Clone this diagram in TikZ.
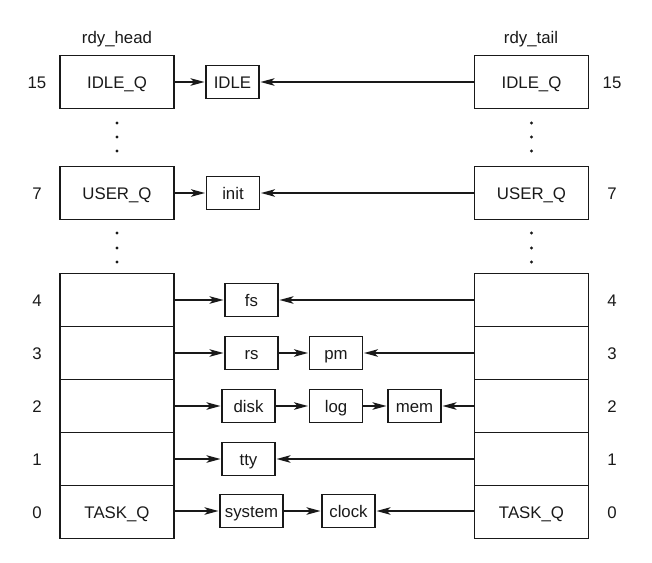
\documentclass[tikz,border=0pt]{standalone}
\usepackage{fontspec}
\setmainfont{Liberation Sans}
\usetikzlibrary{arrows.meta}
\definecolor{ink}{RGB}{25,25,25}
\begin{document}
\begin{tikzpicture}[x=1pt,y=-1pt,
  every node/.style={font=\fontsize{16.8}{19}\selectfont,text=ink,text height=12.2pt,text depth=0pt},
  qbox/.style={draw=ink,line width=1.7pt,minimum width=114pt,minimum height=53pt,inner sep=0pt,outer sep=0pt},
  pbox/.style={draw=ink,line width=1.7pt,minimum width=53pt,minimum height=33pt,inner sep=0pt,outer sep=0pt},
  lnk/.style={draw=ink,line width=1.6pt,shorten >=1.5pt,-{Stealth[length=14pt,width=7.5pt,inset=3.5pt]}},
  lbl/.style={inner sep=0pt}]
\useasboundingbox (0,0) rectangle (652,562);
% headers
\node[lbl] (hh) at (117,37) {rdy\_head};
\node[lbl] (ht) at (531,37) {rdy\_tail};
% left column
\node[qbox] (L15) at (117,82) {IDLE\_Q};
\node[qbox] (L7) at (117,193) {USER\_Q};
\node[qbox] (L4) at (117,300) {};
\node[qbox] (L3) at (117,353) {};
\node[qbox] (L2) at (117,406) {};
\node[qbox] (L1) at (117,459) {};
\node[qbox] (L0) at (117,512) {TASK\_Q};
% right column
\node[qbox] (R15) at (531.5,82) {IDLE\_Q};
\node[qbox] (R7) at (531.5,193) {USER\_Q};
\node[qbox] (R4) at (531.5,300) {};
\node[qbox] (R3) at (531.5,353) {};
\node[qbox] (R2) at (531.5,406) {};
\node[qbox] (R1) at (531.5,459) {};
\node[qbox] (R0) at (531.5,512) {TASK\_Q};
% numbers
\foreach \n/\y in {15/82,7/193,4/300,3/353,2/406,1/459,0/512}{
  \node[lbl] (nl\n) at (37,\y) {\n};
  \node[lbl] (nr\n) at (612,\y) {\n};
}
% dots
\foreach \x in {117,531.5}{
  \foreach \y in {123,137,151,233,248,262}{
    \fill[ink] (\x,\y) circle (1.6pt);
  }
}
% process boxes
\node[pbox] (idle) at (232.5,82) {IDLE};
\node[pbox] (init) at (233,193) {init};
\node[pbox] (fs) at (251.5,300) {fs};
\node[pbox] (rs) at (251.5,353) {rs};
\node[pbox] (pm) at (336,353) {pm};
\node[pbox] (disk) at (248.5,406) {disk};
\node[pbox] (log) at (336,406) {log};
\node[pbox] (mem) at (414.5,406) {mem};
\node[pbox] (tty) at (248.5,459) {tty};
\node[pbox,minimum width=63pt] (system) at (251.5,511) {system};
\node[pbox] (clock) at (348.5,511) {clock};
% links
\draw[lnk] (L15) -- (idle);
\draw[lnk] (R15) -- (idle);
\draw[lnk] (L7) -- (init);
\draw[lnk] (R7) -- (init);
\draw[lnk] (L4) -- (fs);
\draw[lnk] (R4) -- (fs);
\draw[lnk] (L3) -- (rs);
\draw[lnk] (rs) -- (pm);
\draw[lnk] (R3) -- (pm);
\draw[lnk] (L2) -- (disk);
\draw[lnk] (disk) -- (log);
\draw[lnk] (log) -- (mem);
\draw[lnk] (R2) -- (mem);
\draw[lnk] (L1) -- (tty);
\draw[lnk] (R1) -- (tty);
\draw[lnk] (L0.east |- system) -- (system);
\draw[lnk] (system) -- (clock);
\draw[lnk] (R0.west |- clock) -- (clock);
\end{tikzpicture}
\end{document}
